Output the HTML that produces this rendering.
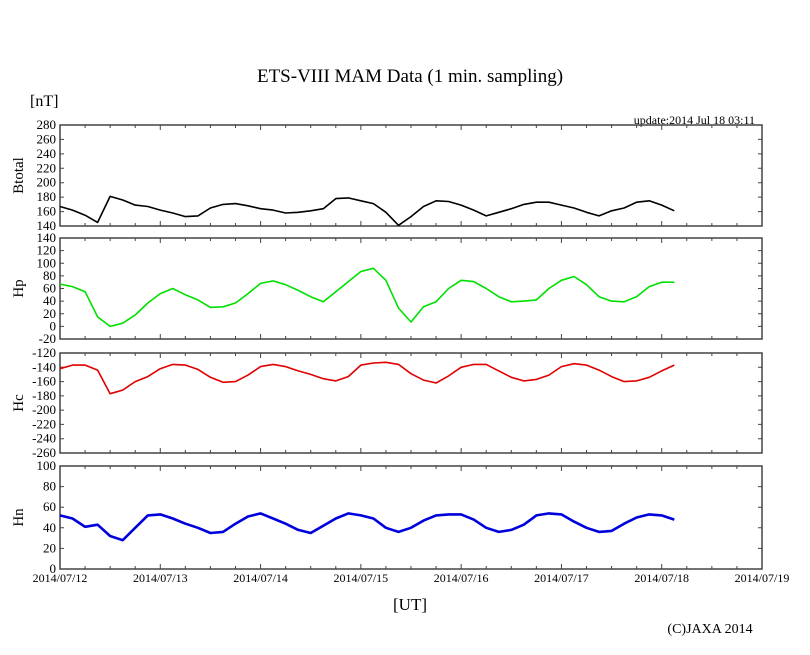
<!DOCTYPE html>
<html><head><meta charset="utf-8"><style>
body{margin:0;background:#fff;}
svg{display:block;font-family:"Liberation Serif",serif;}
</style></head><body>
<svg id="chart" width="810" height="655" viewBox="0 0 810 655">
<rect width="810" height="655" fill="#fff"/>
<text x="410" y="82" font-size="19" text-anchor="middle">ETS-VIII MAM Data (1 min. sampling)</text>
<text x="30" y="106" font-size="16">[nT]</text>
<text x="755" y="124" font-size="12" text-anchor="end">update:2014 Jul 18 03:11</text>
<text x="410" y="610" font-size="17" text-anchor="middle">[UT]</text>
<text x="710" y="633" font-size="14" text-anchor="middle">(C)JAXA 2014</text>
<g id="plots"></g>
</svg>
<script>
const dayLabels=["2014/07/12","2014/07/13","2014/07/14","2014/07/15","2014/07/16","2014/07/17","2014/07/18","2014/07/19"];
const sampleStepHours=3;
const btotal=[167,162,155,145,181,176,169,167,162,158,153,154,165,170,171,168,164,162,158,159,161,164,178,179,175,171,159,141,153,167,175,174,169,162,154,159,164,170,173,173,169,165,159,154,161,165,173,175,169,161];
const hp=[67,63,55,15,0,5,18,37,52,60,50,42,30,31,37,52,68,72,66,57,47,39,55,71,87,92,73,29,7,31,39,60,73,71,60,47,39,40,42,60,73,79,66,47,40,39,47,63,70,70];
const hc=[-142,-137,-137,-144,-177,-172,-160,-153,-142,-136,-137,-143,-154,-161,-160,-151,-139,-136,-139,-145,-150,-156,-159,-153,-137,-134,-133,-136,-149,-158,-162,-152,-140,-136,-136,-145,-154,-159,-157,-151,-139,-135,-137,-144,-153,-160,-159,-154,-145,-137];
const hn=[52,49,41,43,32,28,40,52,53,49,44,40,35,36,44,51,54,49,44,38,35,42,49,54,52,49,40,36,40,47,52,53,53,48,40,36,38,43,52,54,53,46,40,36,37,44,50,53,52,48];
const panelNames=["Btotal","Hp","Hc","Hn"];
const panelMin=[140,-20,-260,0];
const panelMax=[280,140,-120,100];
const panelTicks=[[140,160,180,200,220,240,260,280],[-20,0,20,40,60,80,100,120,140],[-260,-240,-220,-200,-180,-160,-140,-120],[0,20,40,60,80,100]];
const panelColors=["#000","#00e000","#e00000","#0000dd"];
const seriesList=[btotal,hp,hc,hn];

const NS="http://www.w3.org/2000/svg";
const L=60,R=762,tops=[125,238,353,466],bots=[226,339,453,569];
const xScale=d=>L+(R-L)*d/7;
const g=document.getElementById('plots');
function mk(t,a){const e=document.createElementNS(NS,t);for(const k in a)e.setAttribute(k,a[k]);return e;}
for(let p=0;p<4;p++){
  const T=tops[p],B=bots[p];
  const y=v=>B-(v-panelMin[p])/(panelMax[p]-panelMin[p])*(B-T);
  const grp=mk('g',{});
  
  
  g.appendChild(grp);
  const fr=mk('rect',{x:L,y:T,width:R-L,height:B-T,fill:'none',stroke:'#444','stroke-width':1.5});
  
  
  grp.appendChild(fr);
  for(let h=1;h<28;h++){
    const x=xScale(h/4);const len=h%4==0?5:3;
    const t1=mk('path',{d:`M${x},${T}v${len}M${x},${B}v${-len}`,stroke:'#444','stroke-width':1});
    
    
    grp.appendChild(t1);
  }
  panelTicks[p].forEach(v=>{
    const yy=y(v);
    const tk=mk('path',{d:`M${L},${yy}h4M${R},${yy}h-4`,stroke:'#444','stroke-width':1});
    
    
    grp.appendChild(tk);
    const tl=mk('text',{x:L-4,y:yy+4,'font-size':13,'text-anchor':'end'});
    tl.textContent=v;
    
    
    grp.appendChild(tl);
  });
  const lab=mk('text',{x:0,y:0,'font-size':15,'text-anchor':'middle',transform:`translate(23,${(T+B)/2}) rotate(-90)`});
  lab.textContent=panelNames[p];
  
  
  grp.appendChild(lab);
  const s=seriesList[p];
  const pts=s.map((v,i)=>xScale(i*sampleStepHours/24).toFixed(1)+','+y(v).toFixed(1)).join(' ');
  const line=mk('polyline',{points:pts,fill:'none',stroke:panelColors[p],'stroke-width':p==3?2.6:1.6,'stroke-linejoin':'round'});
  
  
  grp.appendChild(line);
}
dayLabels.forEach((d,i)=>{
  const t=mk('text',{x:xScale(i),y:582,'font-size':12,'text-anchor':'middle'});
  t.textContent=d;
  
  
  g.appendChild(t);
});
</script>
</body></html>
